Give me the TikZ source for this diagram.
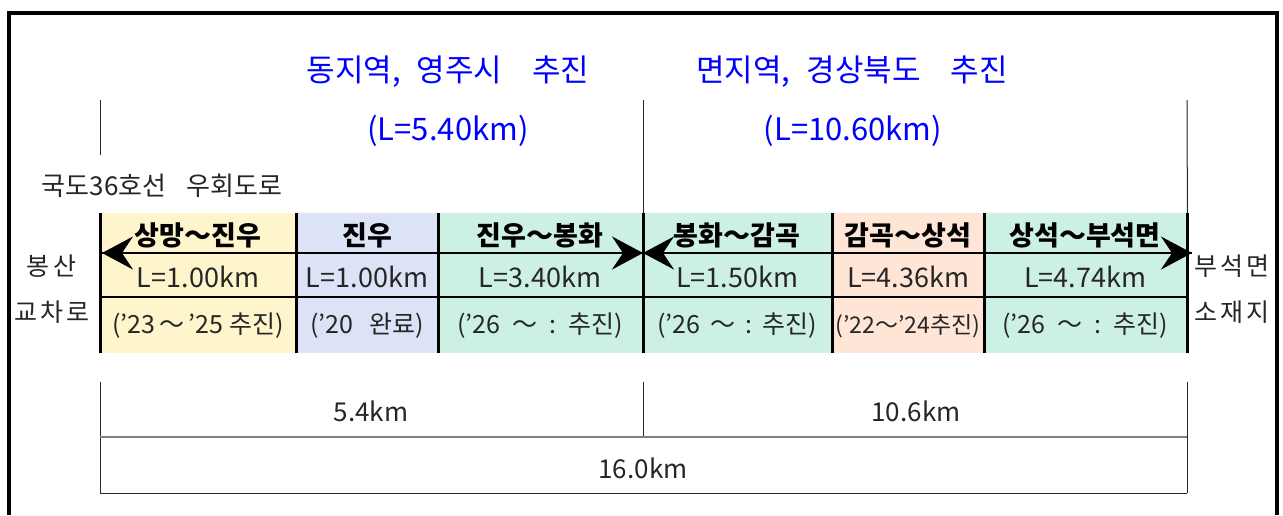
\documentclass[tikz,border=0pt]{standalone}
\usepackage{fontspec}
\setmainfont{Noto Sans CJK KR}
\usetikzlibrary{arrows.meta}
\definecolor{cyel}{HTML}{FFF5CC}
\definecolor{cblu}{HTML}{DDE3F6}
\definecolor{cmin}{HTML}{CCF0E1}
\definecolor{cpch}{HTML}{FFE5D6}
\definecolor{tblue}{HTML}{0000FF}
\newcommand{\tld}{～}
\begin{document}
\begin{tikzpicture}[x=1pt,y=-1pt,
 titletxt/.style={text=tblue, font=\fontsize{31}{34}\selectfont, inner sep=0pt},
 colbox/.style={draw=none, inner sep=0pt, minimum height=140pt, anchor=north west},
 hdtxt/.style={font=\bfseries\fontsize{27}{30}\selectfont, inner sep=0pt, text=black},
 lentxt/.style={font=\fontsize{27}{30}\selectfont, inner sep=0pt, text=black!85},
 datetxt/.style={font=\fontsize{25}{28}\selectfont, inner sep=0pt, text=black!85},
 sidetxt/.style={font=\fontsize{25}{28}\selectfont, inner sep=0pt, text=black!85},
 dimtxt/.style={font=\fontsize{26}{30}\selectfont, inner sep=0pt, text=black!85},
 hairline/.style={line width=1pt, black!85},
 tabline/.style={line width=3pt, black},
 rowline/.style={line width=2.5pt, black},
 bigarrow/.style={line width=2.5pt, -{Stealth[length=31pt,width=33pt,inset=11pt]}},
]
\useasboundingbox (0,0) rectangle (1283,515);
\fill[white] (0,0) rectangle (1283,515);
% outer frame
\draw[line width=4.5pt, line join=miter] (9,515) -- (9,13) -- (1277,13) -- (1277,515);

% titles
\node[titletxt] (t1) at (448,72) {동지역,\hspace{16pt}영주시\hspace{30pt}추진};
\node[titletxt] (t2) at (852,72) {면지역,\hspace{16pt}경상북도\hspace{30pt}추진};
\node[titletxt] (l1) at (448,131) {(L=5.40km)};
\node[titletxt] (l2) at (853,131) {(L=10.60km)};
\node[sidetxt, font=\fontsize{26}{30}\selectfont] (road) at (162,186) {국도36호선\hspace{20pt}우회도로};

% columns
\node[colbox, fill=cyel, minimum width=196pt] (c1) at (100,213) {};
\node[colbox, fill=cblu, minimum width=142pt] (c2) at (296,213) {};
\node[colbox, fill=cmin, minimum width=205pt] (c3) at (438,213) {};
\node[colbox, fill=cmin, minimum width=189pt] (c4) at (643,213) {};
\node[colbox, fill=cpch, minimum width=152pt] (c5) at (832,213) {};
\node[colbox, fill=cmin, minimum width=203pt] (c6) at (984,213) {};

% top guide lines
\coordinate (ga) at (100,100);
\coordinate (gb) at (100,155);
\coordinate (gc) at (643,100);
\coordinate (gd) at (1187,100);
\draw[hairline] (ga) -- (gb);
\draw[hairline] (gc) -- (c4.north west);
\draw[hairline] (gd) -- (c6.north east);

% table lines
\coordinate (r1l) at (100,253);
\coordinate (r1r) at (1187,253);
\coordinate (r2l) at (100,297);
\coordinate (r2r) at (1187,297);
\draw[rowline] (r1l) -- (r1r);
\draw[rowline] (r2l) -- (r2r);
\foreach \c in {c1,c2,c3,c4,c5,c6} \draw[tabline] (\c.north west) -- (\c.south west);
\draw[tabline] (c6.north east) -- (c6.south east);

% arrows
\coordinate (amid) at (643,253);
\coordinate (aleft) at (102,253);
\coordinate (aright) at (1192,253);
\draw[bigarrow] (amid) -- (aleft);
\draw[bigarrow] (aleft) -- (amid);
\draw[bigarrow] (aright) -- (amid);
\draw[bigarrow] (amid) -- (aright);

% header row
\node[hdtxt] (h1) at (198,235) {상망\tld 진우};
\node[hdtxt] (h2) at (367,235) {진우};
\node[hdtxt] (h3) at (540,235) {진우\tld 봉화};
\node[hdtxt] (h4) at (737,235) {봉화\tld 감곡};
\node[hdtxt] (h5) at (908,235) {감곡\tld 상석};
\node[hdtxt] (h6) at (1085,235) {상석\tld 부석면};
% length row
\node[lentxt] (k1) at (198,277) {L=1.00km};
\node[lentxt] (k2) at (367,277) {L=1.00km};
\node[lentxt] (k3) at (540,277) {L=3.40km};
\node[lentxt] (k4) at (737,277) {L=1.50km};
\node[lentxt] (k5) at (908,277) {L=4.36km};
\node[lentxt] (k6) at (1085,277) {L=4.74km};
% date row
\node[datetxt] (d1) at (198,326) {(’23\hspace{4pt}\tld\hspace{4pt}’25\hspace{6pt}추진)};
\node[datetxt] (d2) at (367,326) {(’20\hspace{16pt}완료)};
\node[datetxt] (d3) at (540,326) {(’26\hspace{12pt}\tld\hspace{12pt}:\hspace{12pt}추진)};
\node[datetxt] (d4) at (737,326) {(’26\hspace{10pt}\tld\hspace{10pt}:\hspace{10pt}추진)};
\node[datetxt, font=\fontsize{23}{26}\selectfont] (d5) at (908,326) {(’22\tld’24추진)};
\node[datetxt] (d6) at (1085,326) {(’26\hspace{12pt}\tld\hspace{12pt}:\hspace{12pt}추진)};

% side labels
\node[sidetxt] (s1) at (52,266) {봉\hspace{4pt}산};
\node[sidetxt] (s2) at (52,312) {교\hspace{3pt}차\hspace{3pt}로};
\node[sidetxt] (s3) at (1232,266) {부\hspace{3pt}석\hspace{3pt}면};
\node[sidetxt] (s4) at (1232,312) {소\hspace{3pt}재\hspace{3pt}지};

% dimension lines below
\coordinate (b1t) at (100,382);
\coordinate (b1b) at (100,493);
\coordinate (b2t) at (643,382);
\coordinate (b2b) at (643,437);
\coordinate (b3t) at (1187,382);
\coordinate (b3b) at (1187,493);
\coordinate (g1) at (100,437);
\coordinate (g2) at (1187,437);
\draw[hairline] (b1t) -- (b1b);
\draw[hairline] (b2t) -- (b2b);
\draw[hairline] (b3t) -- (b3b);
\draw[line width=2pt, black!50] (g1) -- (g2);
\draw[hairline] (b1b) -- (b3b);
\node[dimtxt] (m1) at (371,411) {5.4km};
\node[dimtxt] (m2) at (916,411) {10.6km};
\node[dimtxt] (m3) at (643,468) {16.0km};
\end{tikzpicture}
\end{document}
